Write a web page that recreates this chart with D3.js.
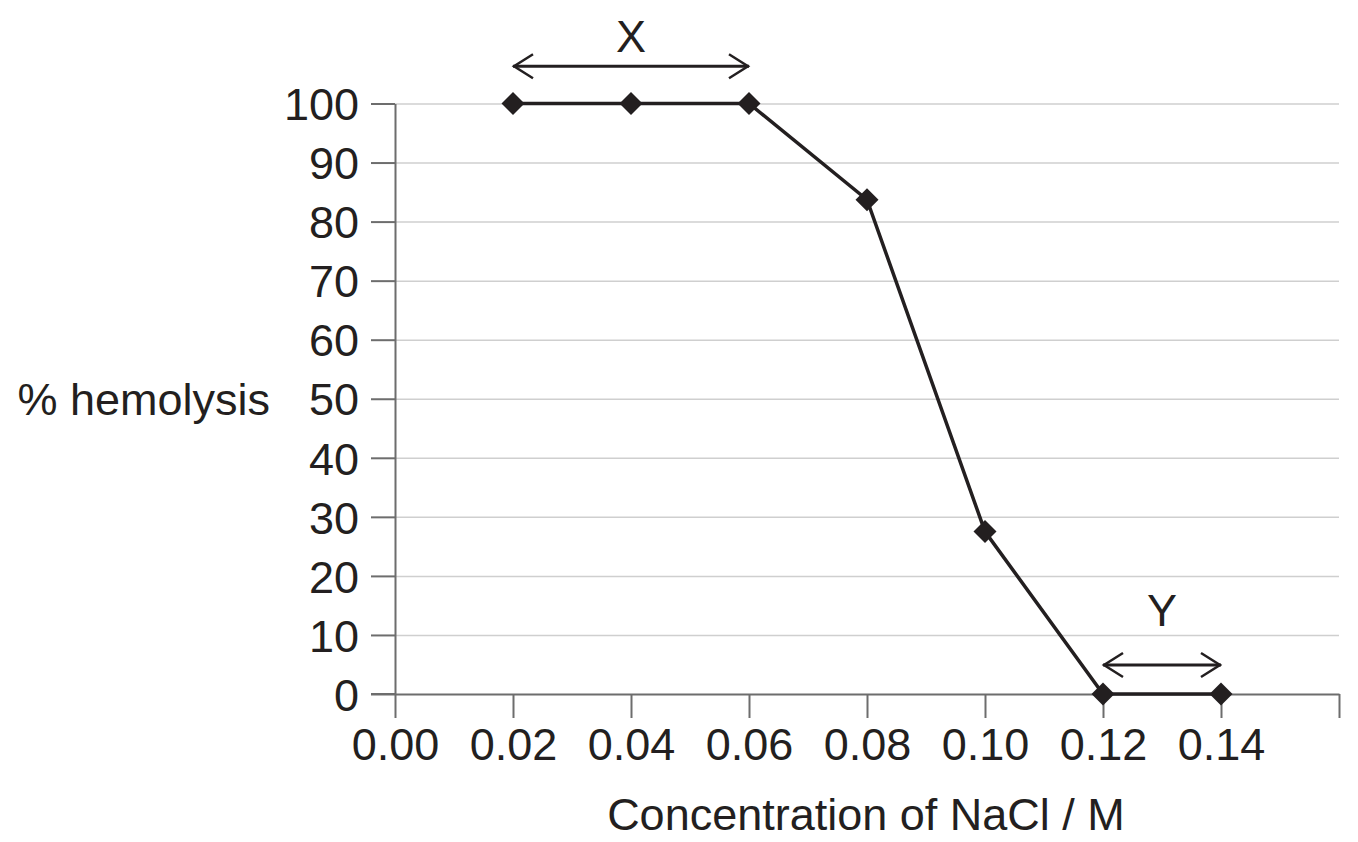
<!DOCTYPE html>
<html lang="en">
<head>
    <meta charset="UTF-8">
    <title>% hemolysis vs NaCl</title>
    <script src="https://d3js.org/d3.v7.min.js"></script>
    <style>
        body { margin: 0; background: #fff; }
        text { font-family: "Liberation Sans", Arial, sans-serif; fill: #231f20; }
        .grid line { stroke: #cfcfcf; stroke-width: 1.5; }
        .grid .domain { display: none; }
        .axis path, .axis line { stroke: #6d6d6d; stroke-width: 2; }
    </style>
</head>
<body>
    <svg width="1358" height="842"></svg>
    <script>
        // data
        const concentration = [0.02, 0.04, 0.06, 0.08, 0.10, 0.12, 0.14];
        const hemolysis = [100, 100, 100, 83.7, 27.5, 0, 0];
        const xTicks = [0, 0.02, 0.04, 0.06, 0.08, 0.10, 0.12, 0.14, 0.16];
        const xTickLabels = ["0.00", "0.02", "0.04", "0.06", "0.08", "0.10", "0.12", "0.14", ""];
        const yTicks = [0, 10, 20, 30, 40, 50, 60, 70, 80, 90, 100];
        const arrows = [
            { label: "X", from: 0.02, to: 0.06, level: 106.3, labelLevel: 108.7 },
            { label: "Y", from: 0.12, to: 0.14, level: 4.9, labelLevel: 11.5 }
        ];

        const svg = d3.select("svg");
        const plotLeft = 395, plotRight = 1339, plotTop = 103.5, plotBottom = 694;

        const x = d3.scaleLinear().domain([0, 0.16]).range([plotLeft, plotRight]);
        const y = d3.scaleLinear().domain([0, 100]).range([plotBottom, plotTop]);

        // gridlines
        svg.append("g")
            .attr("class", "grid")
            .attr("transform", `translate(${plotLeft},0)`)
            .call(d3.axisLeft(y).tickValues(yTicks.filter(d => d > 0))
                .tickSize(-(plotRight - plotLeft)).tickFormat(""));

        // y axis
        const yAxis = svg.append("g")
            .attr("class", "axis")
            .attr("transform", `translate(${plotLeft},0)`)
            .call(d3.axisLeft(y).tickValues(yTicks).tickSize(24).tickSizeOuter(0).tickPadding(12));
        yAxis.selectAll("text").style("font-size", "45px").attr("dy", "0.36em");

        // x axis
        const xAxis = svg.append("g")
            .attr("class", "axis")
            .attr("transform", `translate(0,${plotBottom})`)
            .call(d3.axisBottom(x).tickValues(xTicks)
                .tickFormat((d, i) => xTickLabels[i])
                .tickSize(24).tickSizeOuter(0).tickPadding(10));
        xAxis.selectAll("text").style("font-size", "45px");
        // extend x axis line left to y tick length
        xAxis.append("line")
            .attr("x1", plotLeft - 24).attr("x2", plotLeft)
            .attr("y1", 0).attr("y2", 0);

        // axis titles
        svg.append("text")
            .attr("x", 270).attr("y", y(50))
            .attr("dy", "0.36em")
            .attr("text-anchor", "end")
            .style("font-size", "45px")
            .text("% hemolysis");

        svg.append("text")
            .attr("x", 866).attr("y", 830)
            .attr("text-anchor", "middle")
            .style("font-size", "45px")
            .text("Concentration of NaCl / M");

        // line
        const pts = concentration.map((c, i) => [c, hemolysis[i]]);
        svg.append("path")
            .datum(pts)
            .attr("fill", "none")
            .attr("stroke", "#231f20")
            .attr("stroke-width", 3.5)
            .attr("d", d3.line().x(d => x(d[0])).y(d => y(d[1])));

        svg.selectAll(".marker")
            .data(pts)
            .join("path")
            .attr("class", "marker")
            .attr("transform", d => `translate(${x(d[0])},${y(d[1])})`)
            .attr("d", "M0,-11.5L11.5,0L0,11.5L-11.5,0Z")
            .attr("fill", "#231f20");

        // annotation arrows
        const ann = svg.selectAll(".ann").data(arrows).join("g").attr("class", "ann");
        ann.append("line")
            .attr("x1", d => x(d.from)).attr("x2", d => x(d.to))
            .attr("y1", d => y(d.level)).attr("y2", d => y(d.level))
            .attr("stroke", "#231f20").attr("stroke-width", 3);
        ann.append("path")
            .attr("fill", "none").attr("stroke", "#231f20").attr("stroke-width", 2.5)
            .attr("d", d => {
                const x1 = x(d.from), x2 = x(d.to), yy = y(d.level);
                return `M${x1 + 20},${yy - 12}L${x1 + 1},${yy}L${x1 + 20},${yy + 12}` +
                       `M${x2 - 20},${yy - 12}L${x2 - 1},${yy}L${x2 - 20},${yy + 12}`;
            });
        ann.append("text")
            .attr("x", d => (x(d.from) + x(d.to)) / 2)
            .attr("y", d => y(d.labelLevel))
            .attr("text-anchor", "middle")
            .style("font-size", "45px")
            .text(d => d.label);
    </script>
</body>
</html>
